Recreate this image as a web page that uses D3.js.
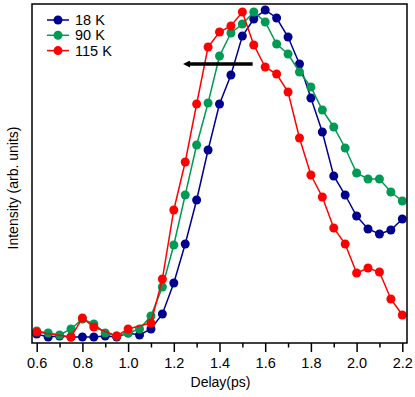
<!DOCTYPE html>
<html>
<head>
<meta charset="utf-8">
<script src="https://cdn.jsdelivr.net/npm/d3@7"></script>
<style>
  html, body { margin: 0; padding: 0; background: #fff; }
  svg { display: block; }
  text { font-family: "Liberation Sans", Arial, Helvetica, sans-serif; fill: #000; }
</style>
</head>
<body>
<svg id="chart" width="415" height="397"></svg>
<script>
// ---- data ----
const delays = [0.6,0.65,0.7,0.75,0.8,0.85,0.9,0.95,1.0,1.05,1.1,1.15,1.2,1.25,1.3,1.35,1.4,1.45,1.5,1.55,1.6,1.65,1.7,1.75,1.8,1.85,1.9,1.95,2.0,2.05,2.1,2.15,2.2];
const series18K  = [9,6,7,6,6,6,7,6,10,8,14,29,60,99,143,193,239,268,307,324,333,325,306,279,245,211,167,148,127,114,109,113,124];
const series90K  = [12,10,8,14,24,19,10,7,10,14,27,56,98,148,198,240,287,310,319,331,321,299,289,271,256,233,216,195,170,164,164,151,142];
const series115K = [11,null,null,6,25,16,null,7,14,null,20,64,133,181,239,296,311,317,331,298,276,269,251,205,168,146,115,99,70,75,71,44,28];
const seriesNames = ["18 K","90 K","115 K"];
const seriesColors = ["#00008f","#009a55","#ff0000"];
const xTicks = [0.6,0.8,1.0,1.2,1.4,1.6,1.8,2.0,2.2];
const xMinorTicks = [0.7,0.9,1.1,1.3,1.5,1.7,1.9,2.1];
const arrowFrom = [1.545, 279];
const arrowTo = [1.23, 279];

// ---- layout ----
const svg = d3.select("#chart");
const L = 32, R = 407, T = 4, B = 343;
const x = d3.scaleLinear().domain([0.6 - 4.7/228.5, 2.2 + 4.7/228.5]).range([L, R]);
const y = d3.scaleLinear().domain([0, 339]).range([B, T]);

const allSeries = [series18K, series90K, series115K];

// lines and markers
const line = d3.line().x(d => x(d[0])).y(d => y(d[1]));
allSeries.forEach((vals, i) => {
  const pts = delays.map((d, j) => [d, vals[j]]).filter(p => p[1] !== null);
  const g = svg.append("g");
  g.append("path").datum(pts).attr("d", line)
    .attr("fill", "none").attr("stroke", seriesColors[i]).attr("stroke-width", 1.5);
  g.selectAll("circle").data(pts).enter().append("circle")
    .attr("cx", d => x(d[0])).attr("cy", d => y(d[1])).attr("r", 4.5)
    .attr("fill", seriesColors[i]);
});

// frame
svg.append("rect").attr("x", L).attr("y", T).attr("width", R - L).attr("height", B - T)
  .attr("fill", "none").attr("stroke", "#000").attr("stroke-width", 1.5);

// x axis
const xAxis = d3.axisBottom(x).tickValues(xTicks).tickFormat(d3.format(".1f")).tickSize(9).tickPadding(6);
const gx = svg.append("g").attr("transform", `translate(0,${B})`).call(xAxis);
gx.select(".domain").remove();
gx.selectAll(".tick line").attr("stroke-width", 1.5);
gx.selectAll(".tick text").style("font-size", "14.5px").style("font-family", "'Liberation Sans', Arial, sans-serif");
const xAxisMinor = d3.axisBottom(x).tickValues(xMinorTicks).tickFormat("").tickSize(4.5);
const gxm = svg.append("g").attr("transform", `translate(0,${B})`).call(xAxisMinor);
gxm.select(".domain").remove();
gxm.selectAll(".tick line").attr("stroke-width", 1.5);

svg.append("text").attr("x", (L + R) / 2 + 1).attr("y", 387)
  .attr("text-anchor", "middle").style("font-size", "14px").text("Delay(ps)");
svg.append("text").attr("transform", "translate(18,188) rotate(-90)")
  .attr("text-anchor", "middle").style("font-size", "14px").text("Intensity (arb. units)");

// arrow
const defs = svg.append("defs");
defs.append("marker").attr("id", "ah").attr("viewBox", "0 0 10 10")
  .attr("refX", 2).attr("refY", 5).attr("markerWidth", 3.2).attr("markerHeight", 2)
  .attr("markerUnits", "strokeWidth").attr("orient", "auto")
  .append("path").attr("d", "M0,0 L10,5 L0,10 Z").attr("fill", "#000");
svg.append("line")
  .attr("x1", x(arrowFrom[0])).attr("y1", y(arrowFrom[1]))
  .attr("x2", x(arrowTo[0]) + 8).attr("y2", y(arrowTo[1]))
  .attr("stroke", "#000").attr("stroke-width", 3.5).attr("marker-end", "url(#ah)");

// legend
const legend = svg.append("g");
seriesNames.forEach((name, i) => {
  const ly = 20 + i * 15.3;
  legend.append("line").attr("x1", 47).attr("x2", 69).attr("y1", ly).attr("y2", ly)
    .attr("stroke", seriesColors[i]).attr("stroke-width", 1.5);
  legend.append("circle").attr("cx", 58).attr("cy", ly).attr("r", 4.5).attr("fill", seriesColors[i]);
  legend.append("text").attr("x", 75).attr("y", ly + 5).style("font-size", "14.5px").text(name);
});
</script>
</body>
</html>
